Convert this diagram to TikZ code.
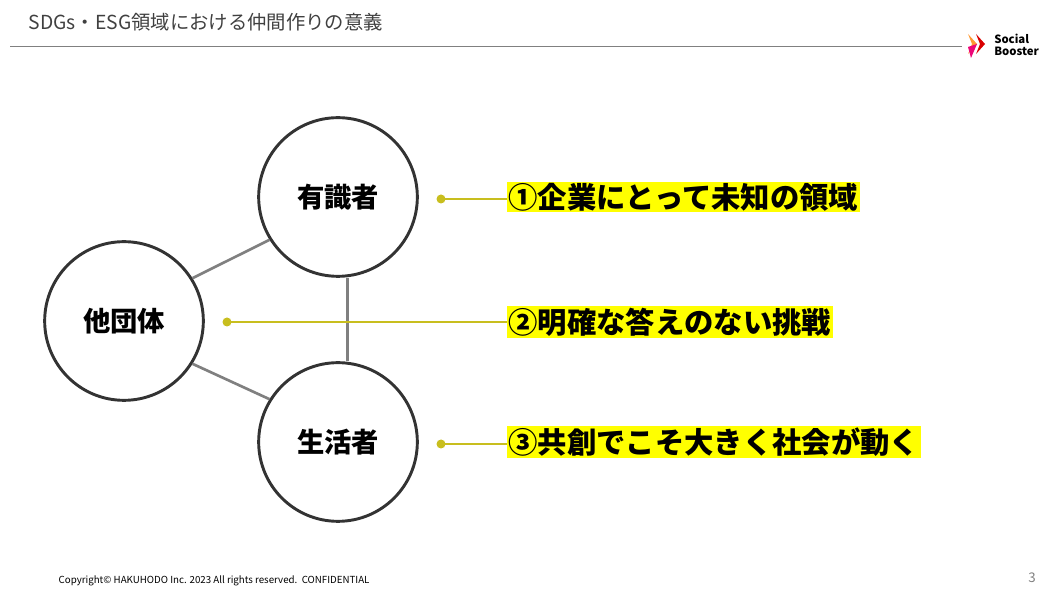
\documentclass[tikz,border=0pt]{standalone}
\usepackage{fontspec}
\setmainfont{Noto Sans CJK JP}
\definecolor{linegray}{RGB}{128,128,128}
\definecolor{olive}{RGB}{200,190,30}
\definecolor{hilite}{RGB}{255,255,0}
\definecolor{titlegray}{RGB}{64,64,64}
\tikzset{
  actor/.style={circle, draw=black!80, line width=2.2pt, minimum size=119pt, inner sep=0pt, font=\fontsize{20.5}{23}\selectfont\bfseries},
  point/.style={fill=hilite, inner sep=1pt, anchor=west, font=\fontsize{22}{25}\selectfont\bfseries},
  link/.style={linegray, line width=2pt},
  pin/.style={olive, line width=2pt},
}
\begin{document}
\begin{tikzpicture}[x=0.75pt, y=-0.75pt]
\useasboundingbox (0,0) rectangle (1050,591);
% header
\node[anchor=west, text=titlegray, font=\fontsize{14.5}{16}\selectfont] (title) at (24,22) {SDGs・ESG領域における仲間作りの意義};
\draw[gray, line width=0.6pt] (10,46) -- (962,46);
\fill[orange!80] (968,34) -- (977,44) -- (968,54) -- (972,44) -- cycle;
\fill[red!85!black] (976,34) -- (985,44) -- (976,54) -- (980,44) -- cycle;
\fill[magenta!80!red] (968,47) -- (977,44) -- (971,58) -- cycle;
\node[anchor=west, align=left, font=\fontsize{8.5}{9}\selectfont\bfseries, inner sep=0pt] (logo) at (994,45) {Social\\Booster};
% circles
\node[actor] (expert) at (338,197) {有識者};
\node[actor] (other) at (124,321) {他団体};
\node[actor] (citizen) at (338,442) {生活者};
\draw[link] (other.32) -- (expert.212);
\draw[link] (other.-32) -- (citizen.148);
\draw[link] ([xshift=7pt]expert.south) -- ([xshift=7pt]citizen.north);
% points
\node[point] (p1) at (507,197) {①企業にとって未知の領域};
\node[point] (p2) at (507,322) {②明確な答えのない挑戦};
\node[point] (p3) at (507,442) {③共創でこそ大きく社会が動く};
\coordinate (d1) at (441,199);
\coordinate (d2) at (227,322);
\coordinate (d3) at (441,444);
\draw[pin] (d1) -- (d1 -| p1.west);
\draw[pin] (d2) -- (p2.west);
\draw[pin] (d3) -- (d3 -| p3.west);
\foreach \d in {d1,d2,d3} \fill[olive] (\d) circle (4.5);
% footer
\node[anchor=west, font=\fontsize{7.3}{8}\selectfont] (copy) at (54,581) {Copyright© HAKUHODO Inc. 2023 All rights reserved.\ \ CONFIDENTIAL};
\node[text=gray, font=\fontsize{10}{11}\selectfont] (page) at (1032,578) {3};
\end{tikzpicture}
\end{document}
